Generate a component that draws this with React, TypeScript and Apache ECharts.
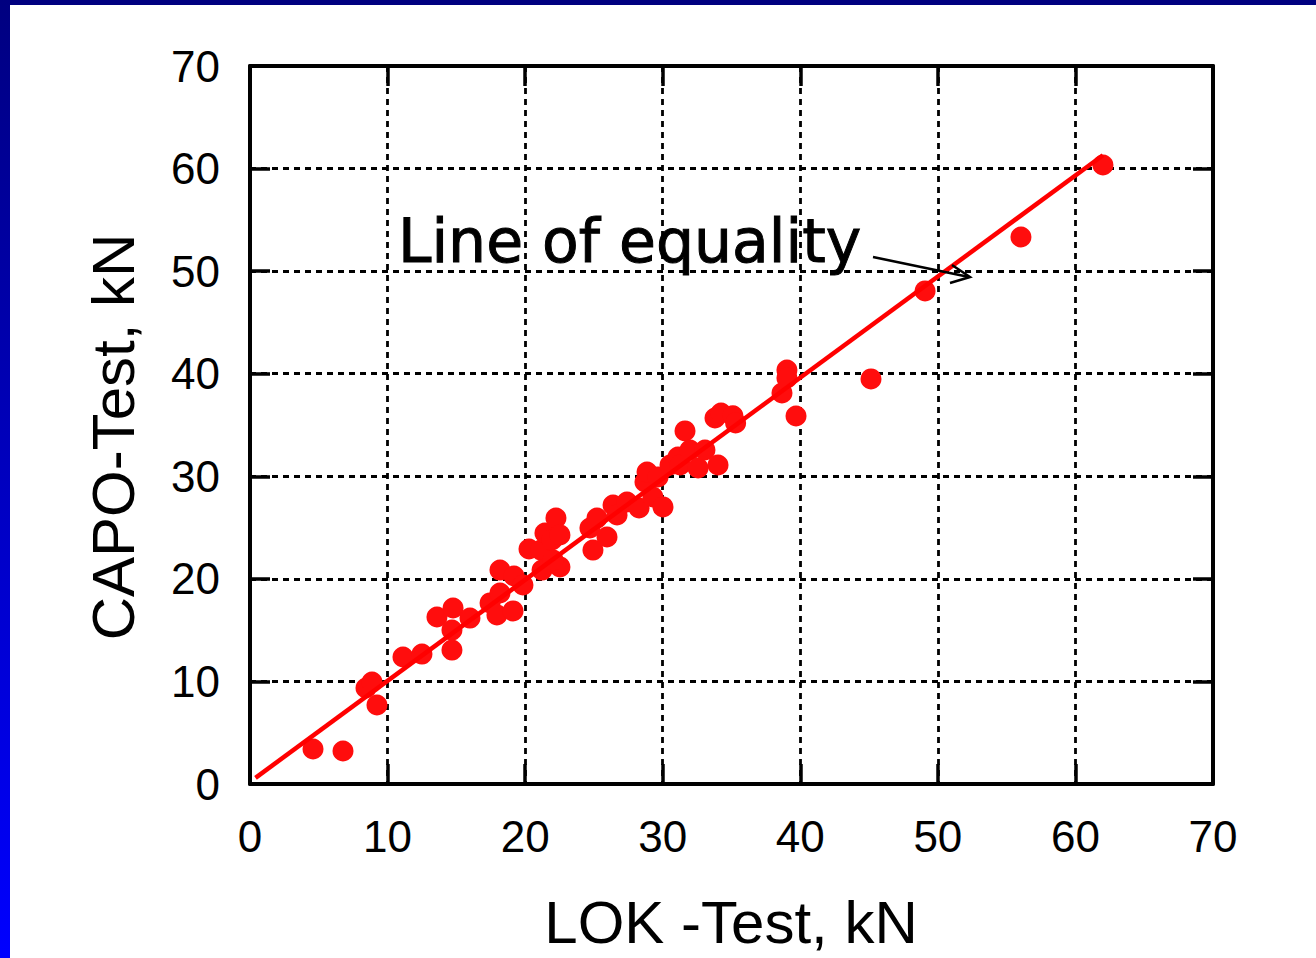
import React, { useEffect, useRef } from "react";
import * as echarts from "echarts";

const xTicks = [0, 10, 20, 30, 40, 50, 60, 70];
const yTicks = [0, 10, 20, 30, 40, 50, 60, 70];

const lokValues = [
  4.58, 6.76, 8.43, 8.87, 9.23, 11.12, 12.5, 13.59, 14.76, 14.68, 14.68, 15.99,
  17.45, 17.95, 18.17, 18.17, 19.19, 19.12, 19.84, 20.28, 21.15, 21.23, 21.44,
  21.95, 22.24, 22.53, 22.53, 22.03, 24.93, 24.71, 25.22, 25.95, 26.39, 26.68,
  27.4, 28.28, 28.71, 28.86, 29.29, 29.66, 30.02, 30.53, 31.11, 31.26, 31.62,
  31.98, 32.57, 33.07, 34.02, 33.8, 34.24, 35.1, 35.3, 38.67, 39.03, 39.03,
  39.69, 45.14, 49.07, 56.04, 62.0,
];
const capoValues = [
  3.41, 3.22, 9.36, 9.94, 7.7, 12.38, 12.67, 16.28, 17.16, 15.01, 13.06, 16.18,
  17.65, 16.48, 20.86, 18.62, 20.28, 16.87, 19.4, 22.91, 22.81, 20.86, 24.47,
  23.79, 25.93, 24.28, 21.16, 21.84, 22.81, 24.96, 25.93, 24.08, 27.2, 26.23,
  27.49, 26.91, 29.44, 30.42, 27.98, 29.93, 27.01, 31.1, 31.88, 31.1, 34.42,
  32.56, 30.81, 32.56, 31.1, 35.68, 36.17, 35.9, 35.2, 38.12, 40.36, 39.58,
  35.88, 39.49, 48.07, 53.33, 60.35,
];
const equalityLineX = [0.4, 62.0];
const equalityLineY = [0.6, 61.3];

const xTitle = "LOK -Test, kN";
const yTitle = "CAPO-Test, kN";
const annotation = "Line of equality";

export default function App() {
  const ref = useRef<HTMLDivElement>(null);
  useEffect(() => {
    if (!ref.current) return;
    const chart = echarts.init(ref.current, null, { renderer: "svg" });
    const points = lokValues.map((x, i) => [x, capoValues[i]]);
    const line = equalityLineX.map((x, i) => [x, equalityLineY[i]]);
    const tickFont = { fontFamily: "'Liberation Sans', Arial, sans-serif", fontSize: 44, color: "#000" };
    const baseAxis = {
      type: "value",
      min: xTicks[0],
      max: xTicks[xTicks.length - 1],
      interval: 10,
    };
    const frameLine = { show: true, onZero: false, lineStyle: { color: "#000", width: 4 } };
    const tick = { show: true, inside: true, length: 20, lineStyle: { color: "#000", width: 3.5 } };
    const grid = { show: true, lineStyle: { color: "#000", width: 2.8, type: [6, 5] } };
    chart.setOption({
      animation: false,
      backgroundColor: "#ffffff",
      grid: { left: 250, right: 103, top: 66, bottom: 174 },
      xAxis: [
        { ...baseAxis, position: "bottom", axisLine: frameLine, axisTick: tick, axisLabel: { ...tickFont, margin: 30 }, splitLine: grid },
        { ...baseAxis, position: "top", axisLine: frameLine, axisTick: tick, axisLabel: { show: false }, splitLine: { show: false } },
      ],
      yAxis: [
        { ...baseAxis, min: yTicks[0], max: yTicks[yTicks.length - 1], position: "left", axisLine: frameLine, axisTick: tick, axisLabel: { ...tickFont, margin: 30 }, splitLine: grid },
        { ...baseAxis, min: yTicks[0], max: yTicks[yTicks.length - 1], position: "right", axisLine: frameLine, axisTick: tick, axisLabel: { show: false }, splitLine: { show: false } },
      ],
      series: [
        {
          type: "scatter",
          data: points,
          symbol: "circle",
          symbolSize: 21,
          itemStyle: { color: "#ff0d0d", opacity: 1 },
          z: 3,
        },
        {
          type: "line",
          data: line,
          showSymbol: false,
          symbol: "none",
          lineStyle: { color: "#ff0000", width: 4.5 },
          z: 4,
        },
      ],
      graphic: [
        {
          type: "rect",
          shape: { x: 0, y: 0, width: 1316, height: 5 },
          style: { fill: "#000080" },
          z: 10,
        },
        {
          type: "rect",
          shape: { x: 0, y: 0, width: 10, height: 958 },
          style: {
            fill: new echarts.graphic.LinearGradient(0, 0, 0, 1, [
              { offset: 0, color: "#000080" },
              { offset: 1, color: "#0000ff" },
            ]),
          },
          z: 10,
        },
        {
          type: "text",
          x: 731,
          y: 922,
          style: {
            text: xTitle,
            font: "60px 'Liberation Sans', Arial, sans-serif",
            fill: "#000",
            align: "center",
            verticalAlign: "middle",
          },
        },
        {
          type: "text",
          x: 113,
          y: 437,
          rotation: Math.PI / 2,
          style: {
            text: yTitle,
            font: "60px 'Liberation Sans', Arial, sans-serif",
            fill: "#000",
            align: "center",
            verticalAlign: "middle",
          },
        },
        {
          type: "text",
          x: 398,
          y: 241,
          style: {
            text: annotation,
            font: "60px 'Comic Sans MS', 'DejaVu Sans', sans-serif",
            fill: "#000",
            stroke: "#000",
            lineWidth: 1,
            align: "left",
            verticalAlign: "middle",
          },
          z: 6,
        },
        {
          type: "line",
          shape: { x1: 873, y1: 257, x2: 969, y2: 277 },
          style: { stroke: "#000", lineWidth: 2.5 },
          z: 6,
        },
        {
          type: "polyline",
          shape: { points: [[952, 265], [970, 277], [950, 283]] },
          style: { stroke: "#000", lineWidth: 2.5, fill: "none" },
          z: 6,
        },
      ],
    });
    return () => chart.dispose();
  }, []);
  return (
    <div
      ref={ref}
      style={{ position: "absolute", left: 0, top: 0, width: 1316, height: 958 }}
    />
  );
}
